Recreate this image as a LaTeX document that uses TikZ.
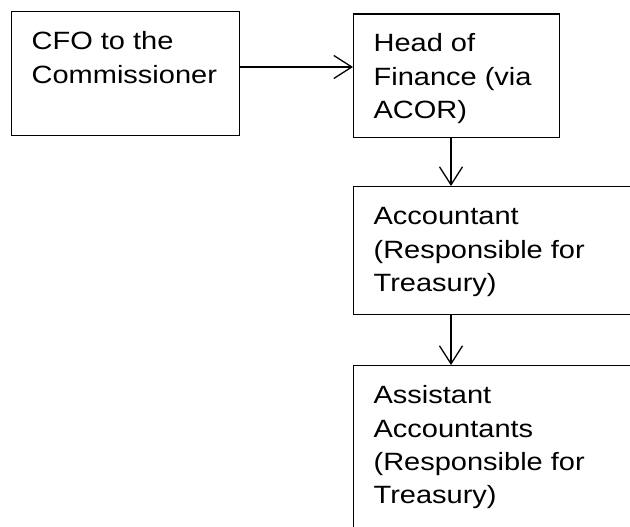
\documentclass[tikz,border=0pt]{standalone}
\usepackage{fontspec}
\setmainfont{Liberation Sans}[FakeStretch=1.16]
\usetikzlibrary{arrows.meta}
\newcommand{\boxtext}[3]{\vbox to #1{\hsize=#2\relax\parindent=0pt\hrule height0pt\prevdepth=0pt\vskip4.6pt\raggedright\noindent #3\par\vss}}
\tikzset{
  box/.style={draw=black, line width=1.3pt, anchor=north west, inner xsep=20pt, inner ysep=0pt,
    font=\fontsize{25}{33.4}\selectfont},
  conn/.style={line width=1.3pt, -{Straight Barb[length=18pt,width=23pt,line width=1.3pt]}}
}
\begin{document}
\begin{tikzpicture}[x=1pt,y=-1pt]
\useasboundingbox (0,0) rectangle (630,527);
\clip (0,0) rectangle (630,527);
\fill[white] (0,0) rectangle (630,527);
\node[box] (b1) at (11,11) {\boxtext{124pt}{188pt}{CFO to the\\Commissioner}};
\node[box] (b2) at (353,13.3) {\boxtext{123.4pt}{166pt}{Head of\\Finance (via\\ACOR)}};
\node[box] (b3) at (353,186) {\boxtext{128pt}{320pt}{Accountant\\(Responsible for\\Treasury)}};
\node[box] (b4) at (353,365) {\boxtext{240pt}{320pt}{Assistant\\Accountants\\(Responsible for\\Treasury)}};
\coordinate (h) at (0,67);
\coordinate (v) at (451,0);
\draw[conn] (b1.east |- h) -- (b2.west |- h);
\draw[conn] (b2.south -| v) -- (b3.north -| v);
\draw[conn] (b3.south -| v) -- (b4.north -| v);
\end{tikzpicture}
\end{document}
